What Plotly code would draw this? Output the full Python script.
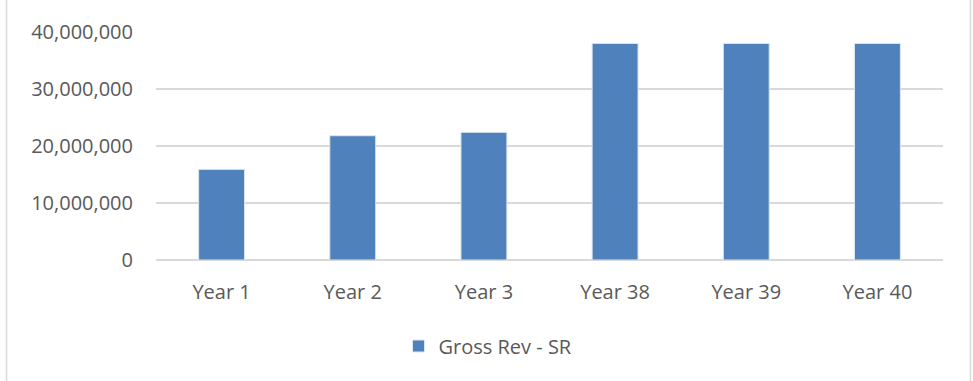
import plotly.graph_objects as go

categories = ["Year 1", "Year 2", "Year 3", "Year 38", "Year 39", "Year 40"]
gross_rev_sr = [15900000, 21800000, 22400000, 38000000, 38000000, 38000000]
y_ticks = [0, 10000000, 20000000, 30000000, 40000000]
y_tick_labels = ["0", "10,000,000", "20,000,000", "30,000,000", "40,000,000"]

W, H = 973, 381
L, R, T, B = 156, 30, 32, 121
plot_w = W - L - R
plot_h = H - T - B
FS = 20
GREY = "#595959"

fig = go.Figure()
fig.add_trace(go.Bar(
    x=categories,
    y=gross_rev_sr,
    name="Gross Rev - SR",
    marker=dict(color="#4F81BD", line=dict(color="#DCE6F2", width=1)),
    showlegend=True,
))

fig.update_layout(
    width=W, height=H,
    margin=dict(l=L, r=R, t=T, b=B),
    paper_bgcolor="white",
    plot_bgcolor="white",
    bargap=0.65,
    font=dict(family="Open Sans", size=FS, color=GREY),
    xaxis=dict(
        showgrid=False, showline=False, ticks="",
        ticklabelstandoff=18,
        tickfont=dict(size=FS, color=GREY),
    ),
    yaxis=dict(
        range=[0, 40000000],
        tickvals=y_ticks, ticktext=y_tick_labels,
        showgrid=True, gridcolor="#D9D9D9", gridwidth=1.5,
        zeroline=True, zerolinecolor="#D9D9D9", zerolinewidth=1.5,
        showline=False, ticks="", ticklen=0,
        ticklabelstandoff=22,
        tickfont=dict(size=FS, color=GREY),
    ),
    legend=dict(
        orientation="h",
        x=(488 - L) / plot_w, xanchor="center",
        y=-(346 - (H - B)) / plot_h, yanchor="middle",
        font=dict(size=FS, color=GREY),
        itemwidth=30,
    ),
    showlegend=True,
)

# light outer border of the chart area (left and right edges)
for xp in (6.5, 970.5):
    fig.add_shape(
        type="line", xref="paper", yref="paper",
        x0=(xp - L) / plot_w, x1=(xp - L) / plot_w,
        y0=-B / plot_h - 0.1, y1=1 + T / plot_h + 0.1,
        line=dict(color="#D9D9D9", width=1.5),
    )

fig.write_html("out.html")
